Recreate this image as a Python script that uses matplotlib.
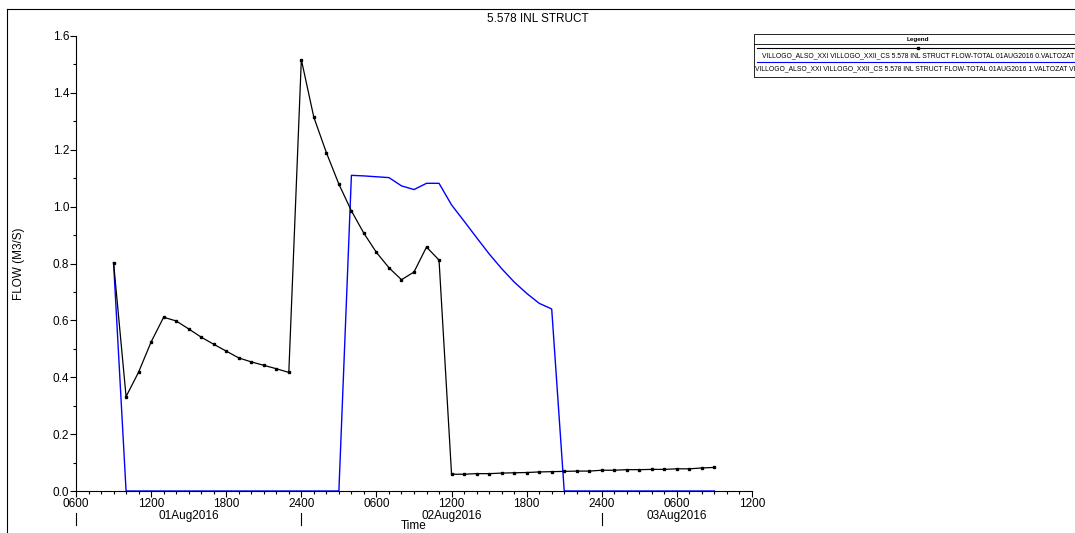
import numpy as np
import pandas as pd
import matplotlib
matplotlib.use('Agg')
import matplotlib.pyplot as plt
import matplotlib.dates as mdates
from matplotlib.lines import Line2D
from matplotlib.patches import Rectangle
from matplotlib.ticker import MultipleLocator, FuncFormatter

plt.rcParams['font.family'] = ['Liberation Sans', 'DejaVu Sans']

# hourly values, 01Aug2016 09:00 .. 03Aug2016 09:00
times = pd.date_range('2016-08-01 09:00', '2016-08-03 09:00', freq='h')

flow_v0 = [0.803, 0.332, 0.418, 0.524, 0.611, 0.598, 0.570, 0.541, 0.516, 0.492,
           0.468, 0.454, 0.442, 0.430, 0.417,
           1.517, 1.314, 1.190, 1.079, 0.985, 0.906, 0.839, 0.785, 0.743, 0.770,
           0.858, 0.812,
           0.059, 0.059, 0.061, 0.061, 0.063, 0.064, 0.065, 0.067, 0.068, 0.069,
           0.070, 0.070, 0.073, 0.073, 0.075, 0.075, 0.076, 0.076, 0.078, 0.078,
           0.081, 0.083]

flow_v1 = [0.803] + [0.0] * 18 + \
          [1.110, 1.108, 1.105, 1.102, 1.073, 1.060, 1.082, 1.082,
           1.006, 0.949, 0.891, 0.834, 0.782, 0.735, 0.695, 0.660, 0.640] + \
          [0.0] * 13

series_names = [
    'VILLOGO_ALSO_XXI VILLOGO_XXII_CS 5.578 INL STRUCT FLOW-TOTAL 01AUG2016 0.VALTOZAT',
    'VILLOGO_ALSO_XXI VILLOGO_XXII_CS 5.578 INL STRUCT FLOW-TOTAL 01AUG2016 1.VALTOZAT VI',
]
day_labels = ['01Aug2016', '02Aug2016', '03Aug2016']
day_centers = ['2016-08-01 15:00', '2016-08-02 12:00', '2016-08-03 06:00']
day_breaks = ['2016-08-01 06:00', '2016-08-02 00:00', '2016-08-03 00:00']

W, H = 1075, 533
fig = plt.figure(figsize=(W / 100, H / 100), dpi=100)
ax = fig.add_axes([76 / W, 1 - 491 / H, 676 / W, 455 / H])

ax.plot(times, flow_v1, color='#0000ff', lw=1.0, zorder=2)
ax.plot(times, flow_v0, color='black', lw=0.9, marker='s', ms=1.6, zorder=3)

t0 = pd.Timestamp('2016-08-01 06:00')
t1 = pd.Timestamp('2016-08-03 12:00')
ax.set_xlim(t0, t1)
ax.set_ylim(0, 1.6)

for s in ['top', 'right']:
    ax.spines[s].set_visible(False)
for s in ['left', 'bottom']:
    ax.spines[s].set_linewidth(0.8)

ax.yaxis.set_major_locator(MultipleLocator(0.2))
ax.yaxis.set_minor_locator(MultipleLocator(0.1))
ax.yaxis.set_major_formatter(FuncFormatter(lambda v, p: '%.1f' % v))

ax.xaxis.set_major_locator(mdates.HourLocator(byhour=[0, 6, 12, 18]))
ax.xaxis.set_minor_locator(mdates.HourLocator())


def hhmm(v, pos):
    d = mdates.num2date(v)
    if d.hour == 0 and d.minute == 0:
        return '2400'
    return d.strftime('%H%M')


ax.xaxis.set_major_formatter(FuncFormatter(hhmm))
ax.tick_params(axis='both', which='major', length=4, width=0.8, labelsize=8.5, pad=1)
ax.tick_params(axis='both', which='minor', length=2, width=0.8)

# day labels and separators under the axis
for lab, c in zip(day_labels, day_centers):
    ax.text(pd.Timestamp(c), -0.055, lab, transform=ax.get_xaxis_transform(),
            ha='center', va='center', fontsize=8.5)
for b in day_breaks:
    ax.plot([pd.Timestamp(b)] * 2, [-0.048, -0.074], color='black', lw=0.8,
            transform=ax.get_xaxis_transform(), clip_on=False)

ax.set_xlabel('Time', fontsize=8.5)
ax.xaxis.set_label_coords(0.5, -0.064)
ax.set_ylabel('FLOW (M3/S)', fontsize=8.5)
ax.yaxis.set_label_coords(-0.0754, 0.5)

fig.text(0.5, 1 - 19 / H, '5.578 INL STRUCT', ha='center', va='center', fontsize=8.5)

# outer frame
fig.add_artist(Line2D([7 / W, 7 / W], [0, 1 - 9 / H], color='black', lw=0.8))
fig.add_artist(Line2D([7 / W, 1], [1 - 9 / H, 1 - 9 / H], color='black', lw=0.8))


# legend block
def fx(x):
    return x / W


def fy(y):
    return 1 - y / H


fig.add_artist(Rectangle((fx(754), fy(77)), fx(340), 43 / H, fill=False,
                         ec='black', lw=0.6))
fig.add_artist(Line2D([fx(754), 1], [fy(44), fy(44)], color='black', lw=0.6))
fig.text(fx(918), fy(39), 'Legend', ha='center', va='center', fontsize=4.6,
         fontweight='bold')
fig.add_artist(Line2D([fx(757), 1], [fy(47.5), fy(47.5)], color='black', lw=0.8))
fig.add_artist(Line2D([fx(918)], [fy(47.5)], color='black', marker='s', ms=1.5))
fig.text(fx(762), fy(55.5), series_names[0], ha='left', va='center', fontsize=4.9)
fig.add_artist(Line2D([fx(757), 1], [fy(62), fy(62)], color='#0000ff', lw=0.8))
fig.text(fx(755), fy(68.5), series_names[1], ha='left', va='center', fontsize=4.9)

fig.savefig('out.png', dpi=100)
